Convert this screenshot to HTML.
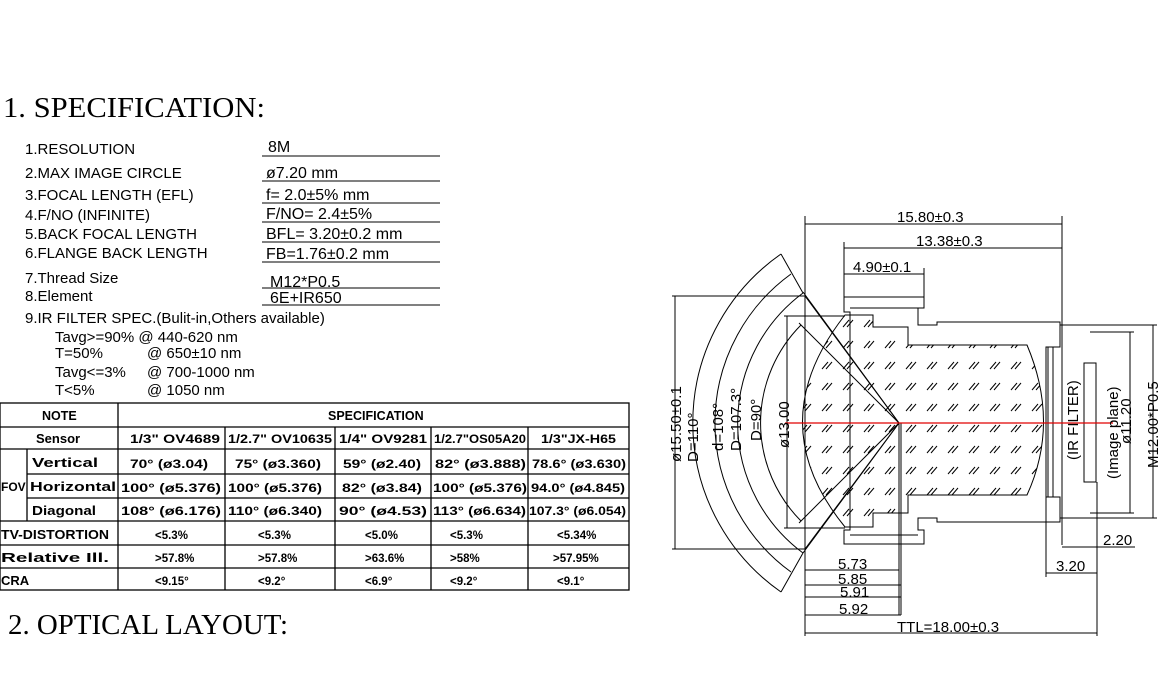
<!DOCTYPE html>
<html><head><meta charset="utf-8"><style>
body{margin:0;background:#fff;width:1168px;height:681px;overflow:hidden}
svg{display:block}
.s{font-family:"Liberation Sans",sans-serif;font-size:15px;fill:#000}
.v{font-family:"Liberation Sans",sans-serif;font-size:16px;fill:#000}
.t{font-family:"Liberation Sans",sans-serif;font-size:11.5px;font-weight:bold;fill:#000}
.d{font-family:"Liberation Sans",sans-serif;font-size:15px;fill:#000}
</style></head><body>
<svg width="1168" height="681" viewBox="0 0 1168 681">
<defs>
<pattern id="h" width="21" height="21" patternUnits="userSpaceOnUse">
<path d="M3 12 L9 5 M7 12 L13 5" stroke="#000" stroke-width="1"/>
</pattern>
</defs>
<text x="3" y="117" textLength="262" lengthAdjust="spacingAndGlyphs" style="font-family:'Liberation Serif',serif;font-size:29px">1. SPECIFICATION:</text>
<g class="s">
<text x="25" y="154">1.RESOLUTION</text>
<text x="25" y="178">2.MAX IMAGE CIRCLE</text>
<text x="25" y="200">3.FOCAL LENGTH (EFL)</text>
<text x="25" y="220">4.F/NO (INFINITE)</text>
<text x="25" y="239">5.BACK FOCAL LENGTH</text>
<text x="25" y="258">6.FLANGE BACK LENGTH</text>
<text x="25" y="283">7.Thread Size</text>
<text x="25" y="301">8.Element</text>
<text x="25" y="323">9.IR FILTER SPEC.(Bulit-in,Others available)</text>
<text x="55" y="342">Tavg&gt;=90% @ 440-620 nm</text>
<text x="55" y="358">T=50%</text><text x="147" y="358">@ 650±10 nm</text>
<text x="55" y="377">Tavg&lt;=3%</text><text x="147" y="377">@ 700-1000 nm</text>
<text x="55" y="395">T&lt;5%</text><text x="147" y="395">@ 1050 nm</text>
</g>
<g class="v">
<text x="268" y="152">8M</text>
<text x="266" y="178">ø7.20  mm</text>
<text x="266" y="200">f= 2.0±5%    mm</text>
<text x="266" y="219">F/NO= 2.4±5%</text>
<text x="266" y="239">BFL= 3.20±0.2 mm</text>
<text x="266" y="259">FB=1.76±0.2 mm</text>
<text x="270" y="287">M12*P0.5</text>
<text x="270" y="303">6E+IR650</text>
</g>
<g stroke="#000" stroke-width="1">
<line x1="262" y1="156" x2="440" y2="156"/>
<line x1="262" y1="181" x2="440" y2="181"/>
<line x1="262" y1="203" x2="440" y2="203"/>
<line x1="262" y1="222" x2="440" y2="222"/>
<line x1="262" y1="242" x2="440" y2="242"/>
<line x1="262" y1="262" x2="440" y2="262"/>
<line x1="262" y1="288" x2="440" y2="288"/>
<line x1="262" y1="305" x2="440" y2="305"/>
</g>
<g stroke="#000" stroke-width="1.3" fill="none">
<rect x="0" y="403" width="629" height="187"/>
<line x1="0" y1="427" x2="629" y2="427"/>
<line x1="0" y1="449" x2="629" y2="449"/>
<line x1="27" y1="474" x2="629" y2="474"/>
<line x1="27" y1="498" x2="629" y2="498"/>
<line x1="0" y1="521" x2="629" y2="521"/>
<line x1="0" y1="545" x2="629" y2="545"/>
<line x1="0" y1="568" x2="629" y2="568"/>
<line x1="27" y1="449" x2="27" y2="521"/>
<line x1="118" y1="403" x2="118" y2="590"/>
<line x1="225" y1="427" x2="225" y2="590"/>
<line x1="335" y1="427" x2="335" y2="590"/>
<line x1="431" y1="427" x2="431" y2="590"/>
<line x1="528" y1="427" x2="528" y2="590"/>
</g>
<g class="t">
<text x="42" y="420" style="font-size:12.5px">NOTE</text>
<text x="328" y="420" style="font-size:12.5px">SPECIFICATION</text>
<text x="36" y="443" style="font-size:13px">Sensor</text>
<text x="32" y="467" style="font-size:13px" textLength="66" lengthAdjust="spacingAndGlyphs">Vertical</text>
<text x="1" y="491" style="font-size:12px">FOV</text>
<text x="30" y="491" style="font-size:13px" textLength="86" lengthAdjust="spacingAndGlyphs">Horizontal</text>
<text x="32" y="515" style="font-size:13px" textLength="64" lengthAdjust="spacingAndGlyphs">Diagonal</text>
<text x="1" y="539" style="font-size:13px" textLength="108" lengthAdjust="spacingAndGlyphs">TV-DISTORTION</text>
<text x="1" y="562" style="font-size:13px" textLength="108" lengthAdjust="spacingAndGlyphs">Relative Ill.</text>
<text x="1" y="585" style="font-size:13px">CRA</text>
<text x="130" y="443" textLength="90" lengthAdjust="spacingAndGlyphs">1/3" OV4689</text><text x="228" y="443" textLength="104" lengthAdjust="spacingAndGlyphs">1/2.7" OV10635</text><text x="339" y="443" textLength="88" lengthAdjust="spacingAndGlyphs">1/4" OV9281</text><text x="434" y="443" textLength="92" lengthAdjust="spacingAndGlyphs">1/2.7"OS05A20</text><text x="541" y="443" textLength="75" lengthAdjust="spacingAndGlyphs">1/3"JX-H65</text>
<text x="130" y="468" textLength="78" lengthAdjust="spacingAndGlyphs">70° (ø3.04)</text><text x="235" y="468" textLength="86" lengthAdjust="spacingAndGlyphs">75° (ø3.360)</text><text x="343" y="468" textLength="78" lengthAdjust="spacingAndGlyphs">59° (ø2.40)</text><text x="435" y="468" textLength="91" lengthAdjust="spacingAndGlyphs">82° (ø3.888)</text><text x="532" y="468" textLength="94" lengthAdjust="spacingAndGlyphs">78.6° (ø3.630)</text>
<text x="121" y="492" textLength="100" lengthAdjust="spacingAndGlyphs">100° (ø5.376)</text><text x="228" y="492" textLength="94" lengthAdjust="spacingAndGlyphs">100° (ø5.376)</text><text x="342" y="492" textLength="80" lengthAdjust="spacingAndGlyphs">82° (ø3.84)</text><text x="433" y="492" textLength="94" lengthAdjust="spacingAndGlyphs">100° (ø5.376)</text><text x="531" y="492" textLength="94" lengthAdjust="spacingAndGlyphs">94.0° (ø4.845)</text>
<text x="121" y="515" textLength="100" lengthAdjust="spacingAndGlyphs">108° (ø6.176)</text><text x="228" y="515" textLength="94" lengthAdjust="spacingAndGlyphs">110° (ø6.340)</text><text x="339" y="515" textLength="88" lengthAdjust="spacingAndGlyphs">90° (ø4.53)</text><text x="433" y="515" textLength="93" lengthAdjust="spacingAndGlyphs">113° (ø6.634)</text><text x="529" y="515" textLength="97" lengthAdjust="spacingAndGlyphs">107.3° (ø6.054)</text>
<text x="155" y="539">&lt;5.3%</text><text x="258" y="539">&lt;5.3%</text><text x="365" y="539">&lt;5.0%</text><text x="450" y="539">&lt;5.3%</text><text x="557" y="539">&lt;5.34%</text>
<text x="155" y="562">&gt;57.8%</text><text x="258" y="562">&gt;57.8%</text><text x="365" y="562">&gt;63.6%</text><text x="450" y="562">&gt;58%</text><text x="553" y="562">&gt;57.95%</text>
<text x="155" y="585">&lt;9.15°</text><text x="258" y="585">&lt;9.2°</text><text x="365" y="585">&lt;6.9°</text><text x="450" y="585">&lt;9.2°</text><text x="557" y="585">&lt;9.1°</text>
</g>
<text x="8" y="634" textLength="280" lengthAdjust="spacingAndGlyphs" style="font-family:'Liberation Serif',serif;font-size:29px">2. OPTICAL LAYOUT:</text>

<g stroke="#000" stroke-width="1" fill="none">
<path d="M845 315 L873 315 L873 327 L908 327 L908 345 L1027 345 Q1060 423 1027 495 L908 495 L908 513 L873 513 L873 527 L845 527 Q760 423 845 315 Z" fill="url(#h)"/>
<path d="M844 297 L924 297 L924 308 L918 308 L918 325 L937 325 L937 322 L1060 322 L1060 347 L1046 347 L1046 497 L1060 497 L1060 522 L937 522 L937 518 L918 518 L918 530 L924 530 L924 544 L844 544 L844 530 L850 530 L850 312 L844 312 Z"/>
<line x1="850" y1="308" x2="918" y2="308"/>
<line x1="850" y1="535" x2="918" y2="535"/>
<rect x="1048" y="347" width="5" height="150"/>
<rect x="1084" y="363" width="12" height="119"/>
<line x1="805" y1="296" x2="805" y2="549"/>
<line x1="805" y1="296" x2="899" y2="423"/><line x1="803" y1="292" x2="899" y2="423"/>
<line x1="805" y1="549" x2="899" y2="423"/><line x1="803" y1="553" x2="899" y2="423"/>
<line x1="899" y1="423" x2="899" y2="615"/><line x1="901" y1="423" x2="901" y2="615"/>
<line x1="799" y1="323" x2="899" y2="423"/><line x1="799" y1="523" x2="899" y2="423"/>
<path d="M781 254 A206 206 0 0 0 781 592"/>
<path d="M791 274 A184 184 0 0 0 791 572"/>
<path d="M803 293 A162 162 0 0 0 803 553"/>
<path d="M801 325 A139 139 0 0 0 801 521"/>
<line x1="781" y1="254" x2="803" y2="293"/><line x1="781" y1="592" x2="803" y2="553"/>
<line x1="805" y1="224" x2="1062" y2="224"/><line x1="805" y1="216" x2="805" y2="296"/><line x1="1062" y1="216" x2="1062" y2="545"/>
<line x1="844" y1="248" x2="1062" y2="248"/><line x1="844" y1="242" x2="844" y2="297"/>
<line x1="844" y1="274" x2="924" y2="274"/><line x1="924" y1="268" x2="924" y2="297"/>
<line x1="675" y1="296" x2="675" y2="549"/><line x1="672" y1="296" x2="805" y2="296"/><line x1="672" y1="549" x2="805" y2="549"/>
<line x1="787" y1="316" x2="787" y2="528"/><line x1="784" y1="316" x2="845" y2="316"/><line x1="784" y1="528" x2="845" y2="528"/>
<line x1="1153" y1="325" x2="1153" y2="518"/><line x1="1060" y1="325" x2="1157" y2="325"/><line x1="1060" y1="518" x2="1157" y2="518"/>
<line x1="1130" y1="332" x2="1130" y2="513"/><line x1="1090" y1="332" x2="1134" y2="332"/><line x1="1090" y1="513" x2="1134" y2="513"/>
<line x1="1062" y1="547" x2="1135" y2="547"/><line x1="1097" y1="482" x2="1097" y2="636"/>
<line x1="1046" y1="573" x2="1097" y2="573"/><line x1="1046" y1="497" x2="1046" y2="577"/>
<line x1="805" y1="549" x2="805" y2="636"/>
<line x1="805" y1="570" x2="899" y2="570"/>
<line x1="805" y1="585" x2="901" y2="585"/>
<line x1="805" y1="597" x2="901" y2="597"/>
<line x1="805" y1="615" x2="901" y2="615"/>
<line x1="805" y1="633" x2="1097" y2="633"/>
</g>
<line x1="785" y1="423" x2="1113" y2="423" stroke="#e00000" stroke-width="1.2"/>
<g class="d">
<text x="897" y="222">15.80±0.3</text>
<text x="916" y="246">13.38±0.3</text>
<text x="853" y="272">4.90±0.1</text>
<text x="838" y="569">5.73</text>
<text x="838" y="584">5.85</text>
<text x="840" y="597">5.91</text>
<text x="839" y="614">5.92</text>
<text x="897" y="632">TTL=18.00±0.3</text>
<text x="1103" y="545">2.20</text>
<text x="1056" y="571">3.20</text>
<text transform="translate(681,462) rotate(-90)">ø15.50±0.1</text>
<text transform="translate(698,462) rotate(-90)">D=110°</text>
<text transform="translate(723,451) rotate(-90)">d=108°</text>
<text transform="translate(741,451) rotate(-90)">D=107.3°</text>
<text transform="translate(761,441) rotate(-90)">D=90°</text>
<text transform="translate(789,448) rotate(-90)">ø13.00</text>
<text transform="translate(1078,460) rotate(-90)">(IR  FILTER)</text>
<text transform="translate(1118,479) rotate(-90)">(Image  plane)</text>
<text transform="translate(1131,444) rotate(-90)">ø11.20</text>
<text transform="translate(1158,468) rotate(-90)">M12.00*P0.5</text>
</g>
</svg>
</body></html>
